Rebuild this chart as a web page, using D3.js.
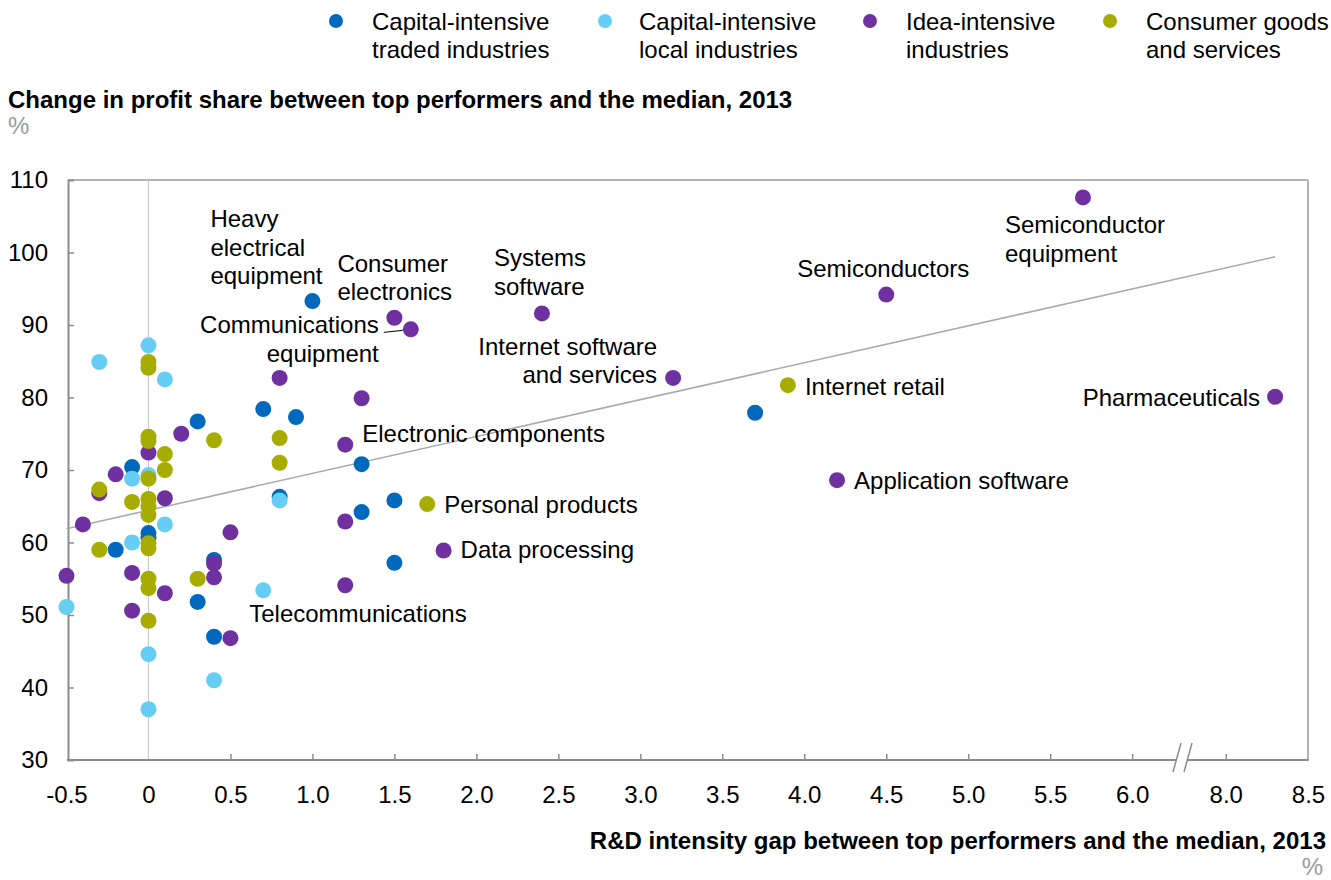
<!DOCTYPE html>
<html>
<head>
<meta charset="utf-8">
<script src="https://cdn.jsdelivr.net/npm/d3@7/dist/d3.min.js"></script>
<style>
  html, body { margin: 0; padding: 0; background: #fff; }
  svg { display: block; font-family: "Liberation Sans", Arial, sans-serif; }
</style>
</head>
<body>
<svg id="chart" width="1331" height="880"></svg>
<script>
// ---------- DATA ----------
const seriesNames = [
  ["Capital-intensive", "traded industries"],
  ["Capital-intensive", "local industries"],
  ["Idea-intensive", "industries"],
  ["Consumer goods", "and services"]
];
const seriesColors = ["#0068BD", "#66CDF4", "#7031A0", "#A7AC00"];

// [R&D intensity gap, change in profit share]
const capitalTraded = [
  [1.0, 93.3], [3.7, 77.9], [0.7, 78.4], [0.9, 77.3], [0.3, 76.7], [1.3, 70.8],
  [-0.1, 70.4], [0.8, 66.3], [1.5, 65.8], [1.3, 64.2], [0, 61.3], [0, 60.7],
  [-0.2, 59.0], [0.4, 57.6], [1.5, 57.2], [0.3, 51.8], [0.4, 47.0]
];
const capitalLocal = [
  [0, 87.2], [-0.3, 84.9], [0.1, 82.5], [0, 69.3], [-0.1, 68.8], [0.8, 65.8],
  [0.1, 62.5], [-0.1, 60.0], [0.7, 53.4], [-0.5, 51.1], [0, 44.6], [0.4, 41.0], [0, 37.0]
];
const ideaIntensive = [
  [5.7, 107.6], [4.5, 94.2], [2.4, 91.6], [1.5, 91.0], [1.6, 89.4], [3.2, 82.7],
  [8.3, 80.1], [4.2, 68.6], [0.8, 82.7], [1.3, 79.9], [0.2, 75.0], [1.2, 73.5],
  [0, 72.4], [-0.2, 69.4], [-0.3, 66.8], [0.1, 66.1], [-0.4, 62.5], [1.2, 62.9],
  [0.5, 61.4], [1.8, 58.9], [0.4, 57.1], [-0.5, 55.4], [-0.1, 55.8], [0.4, 55.2],
  [1.2, 54.1], [0.1, 53.0], [-0.1, 50.6], [0.5, 46.8]
];
const consumerGoods = [
  [3.9, 81.7], [1.7, 65.3], [0, 84.9], [0, 84.1], [0, 74.6], [0, 74.0], [0.4, 74.1],
  [0.8, 74.4], [0.1, 72.2], [0.8, 71.0], [0.1, 70.0], [0, 68.8], [-0.3, 67.3],
  [-0.1, 65.6], [0, 66.0], [0, 65.0], [0, 63.8], [0, 59.9], [0, 59.2], [-0.3, 59.0],
  [0, 55.0], [0, 53.7], [0.3, 55.0], [0, 49.2]
];

// trend line endpoints
const trendX = [-0.5, 8.3];
const trendY = [61.9, 99.4];

// ticks
const xTicks = [-0.5, 0, 0.5, 1.0, 1.5, 2.0, 2.5, 3.0, 3.5, 4.0, 4.5, 5.0, 5.5, 6.0, 8.0, 8.5];
const xTickLabels = ["-0.5", "0", "0.5", "1.0", "1.5", "2.0", "2.5", "3.0", "3.5", "4.0", "4.5", "5.0", "5.5", "6.0", "8.0", "8.5"];
const yTicks = [30, 40, 50, 60, 70, 80, 90, 100, 110];

// annotations: label lines and the point they describe
const annotations = [
  { lines: ["Heavy", "electrical", "equipment"], x: 1.0, y: 93.3 },
  { lines: ["Consumer", "electronics"], x: 1.5, y: 91.0 },
  { lines: ["Communications", "equipment"], x: 1.6, y: 89.4 },
  { lines: ["Systems", "software"], x: 2.4, y: 91.6 },
  { lines: ["Internet software", "and services"], x: 3.2, y: 82.7 },
  { lines: ["Semiconductors"], x: 4.5, y: 94.2 },
  { lines: ["Semiconductor", "equipment"], x: 5.7, y: 107.6 },
  { lines: ["Internet retail"], x: 3.9, y: 81.7 },
  { lines: ["Pharmaceuticals"], x: 8.3, y: 80.1 },
  { lines: ["Application software"], x: 4.2, y: 68.6 },
  { lines: ["Electronic components"], x: 1.2, y: 73.5 },
  { lines: ["Personal products"], x: 1.7, y: 65.3 },
  { lines: ["Data processing"], x: 1.8, y: 58.9 },
  { lines: ["Telecommunications"], x: 0.7, y: 53.4 }
];

// ---------- LAYOUT ----------
const labelLayout = [
  { dx: -102, dy: -74, anchor: "start" },
  { dx: -57, dy: -46, anchor: "start" },
  { dx: -32, dy: 4, anchor: "end", leader: [-27, 3, -8, 1] },
  { dx: -48, dy: -47, anchor: "start" },
  { dx: -16, dy: -23, anchor: "end" },
  { dx: -89, dy: -18, anchor: "start" },
  { dx: -78, dy: 36, anchor: "start" },
  { dx: 17, dy: 10, anchor: "start" },
  { dx: -15, dy: 9, anchor: "end" },
  { dx: 17, dy: 9, anchor: "start" },
  { dx: 17, dy: -3, anchor: "start" },
  { dx: 17, dy: 9, anchor: "start" },
  { dx: 17, dy: 8, anchor: "start" },
  { dx: -14, dy: 32, anchor: "start" }
];

const svg = d3.select("#chart");
const pLeft = 68, pRight = 1308, pTop = 180, pBottom = 760;
const breakPx = 1183;

const x = d3.scaleLinear()
  .domain([-0.5, 6.31, 7.74, 8.5])
  .range([66.5, breakPx, breakPx, pRight]);
const y = d3.scaleLinear().domain([30, 110]).range([pBottom, pTop]);

const FS = 24;
const axisGray = "#8c8c8c";

// frame top & right
svg.append("line").attr("x1", pLeft).attr("x2", pRight).attr("y1", pTop).attr("y2", pTop)
  .attr("stroke", "#9a9a9a").attr("stroke-width", 1.5);
svg.append("line").attr("x1", pRight).attr("x2", pRight).attr("y1", pTop).attr("y2", pBottom)
  .attr("stroke", "#9a9a9a").attr("stroke-width", 1.5);

// zero gridline
svg.append("line").attr("x1", x(0)).attr("x2", x(0)).attr("y1", pTop).attr("y2", pBottom)
  .attr("stroke", "#c8c8c8").attr("stroke-width", 1.2);

// y axis
const yAxis = d3.axisLeft(y).tickValues(yTicks).tickSize(-6).tickPadding(20).tickFormat(d3.format("d"));
const gy = svg.append("g").attr("transform", `translate(${pLeft},0)`).call(yAxis);
gy.select(".domain").attr("stroke", axisGray).attr("stroke-width", 2);
gy.selectAll(".tick line").attr("stroke", axisGray).attr("stroke-width", 1.5)
  .attr("display", d => (d === 30 || d === 110) ? "none" : null);
gy.selectAll(".tick text").attr("font-size", FS).attr("fill", "#000")
  .attr("font-family", "Liberation Sans, Arial, sans-serif").attr("x", -20);

// x axis
const xAxis = d3.axisBottom(x).tickValues(xTicks).tickSize(-6).tickPadding(26)
  .tickFormat((d, i) => xTickLabels[i]);
const gx = svg.append("g").attr("transform", `translate(0,${pBottom})`).call(xAxis);
gx.select(".domain").remove();
gx.selectAll(".tick line").attr("stroke", axisGray).attr("stroke-width", 1.5)
  .attr("display", d => (d === -0.5 || d === 0 || d === 8.5) ? "none" : null);
gx.selectAll(".tick text").attr("font-size", FS).attr("fill", "#000")
  .attr("font-family", "Liberation Sans, Arial, sans-serif");
// bottom axis line with break gap
svg.append("line").attr("x1", pLeft - 1).attr("x2", breakPx - 7).attr("y1", pBottom).attr("y2", pBottom)
  .attr("stroke", axisGray).attr("stroke-width", 2);
svg.append("line").attr("x1", breakPx + 5).attr("x2", pRight + 0.75).attr("y1", pBottom).attr("y2", pBottom)
  .attr("stroke", axisGray).attr("stroke-width", 2);
[-6, 5].forEach(o => {
  svg.append("line")
    .attr("x1", breakPx + o - 4).attr("y1", pBottom + 12)
    .attr("x2", breakPx + o + 4).attr("y2", pBottom - 17)
    .attr("stroke", axisGray).attr("stroke-width", 1.5);
});

// trend line
svg.append("line")
  .attr("x1", x(trendX[0])).attr("y1", y(trendY[0]))
  .attr("x2", x(trendX[1])).attr("y2", y(trendY[1]))
  .attr("stroke", "#ababab").attr("stroke-width", 1.6);

// points
const allSeries = [capitalTraded, capitalLocal, ideaIntensive, consumerGoods];
allSeries.forEach((s, i) => {
  svg.append("g").selectAll("circle").data(s).join("circle")
    .attr("cx", d => x(d[0])).attr("cy", d => y(d[1])).attr("r", 8)
    .attr("fill", seriesColors[i]);
});

// annotations
const LH = 28.5;
annotations.forEach((a, i) => {
  const L = labelLayout[i];
  const px = x(a.x), py = y(a.y);
  const t = svg.append("text").attr("font-size", FS).attr("fill", "#000")
    .attr("text-anchor", L.anchor);
  a.lines.forEach((ln, j) => {
    t.append("tspan").attr("x", px + L.dx).attr("y", py + L.dy + j * LH).text(ln);
  });
  if (L.leader) {
    svg.append("line")
      .attr("x1", px + L.leader[0]).attr("y1", py + L.leader[1])
      .attr("x2", px + L.leader[2]).attr("y2", py + L.leader[3])
      .attr("stroke", "#000").attr("stroke-width", 1);
  }
});

// titles
svg.append("text").attr("x", 8).attr("y", 108).attr("font-size", FS).attr("font-weight", "bold")
  .text("Change in profit share between top performers and the median, 2013");
svg.append("text").attr("x", 8).attr("y", 134).attr("font-size", FS).attr("fill", "#9a9a9a").text("%");
svg.append("text").attr("x", 1326).attr("y", 849).attr("font-size", FS).attr("font-weight", "bold")
  .attr("text-anchor", "end")
  .text("R&D intensity gap between top performers and the median, 2013");
svg.append("text").attr("x", 1323).attr("y", 875).attr("font-size", FS).attr("fill", "#9a9a9a")
  .attr("text-anchor", "end").text("%");

// legend
const legendDotX = [336, 605, 870, 1110];
const legendTextX = [372, 639, 906, 1146];
seriesNames.forEach((nm, i) => {
  svg.append("circle").attr("cx", legendDotX[i]).attr("cy", 21).attr("r", 7)
    .attr("fill", seriesColors[i]);
  const t = svg.append("text").attr("font-size", FS).attr("fill", "#000");
  nm.forEach((ln, j) => {
    t.append("tspan").attr("x", legendTextX[i]).attr("y", 30 + j * 28).text(ln);
  });
});
</script>
</body>
</html>
